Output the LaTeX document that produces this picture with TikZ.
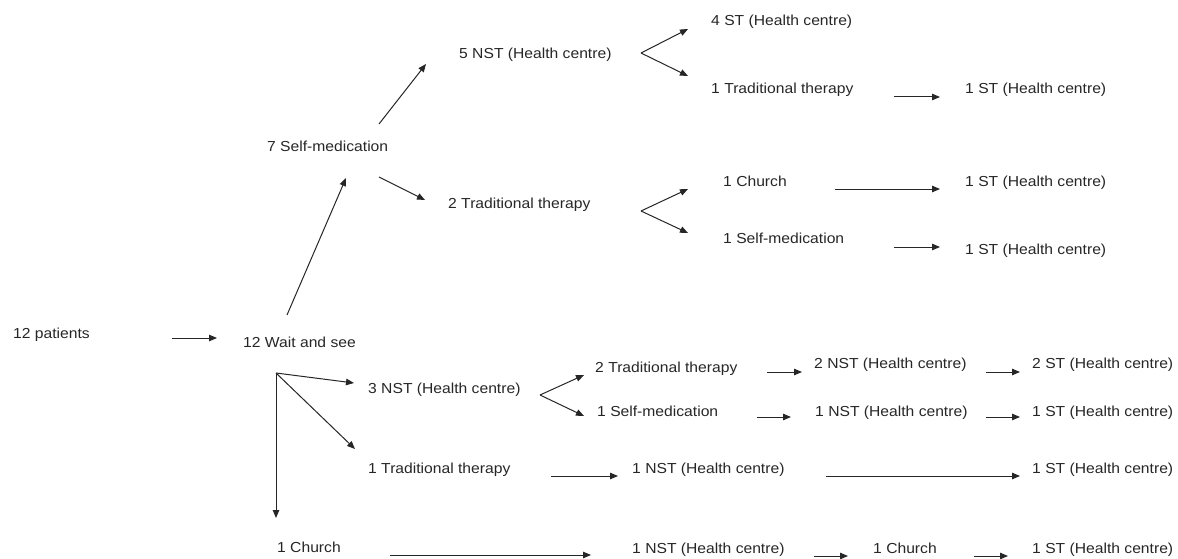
\documentclass[tikz,border=0pt]{standalone}
\usepackage{fontspec}
\setmainfont[FakeStretch=1.08]{Liberation Sans}
\usetikzlibrary{arrows.meta}
\tikzset{
  lbl/.style={anchor=base west, inner sep=0pt, text=black!85, font=\fontsize{14.5}{17}\selectfont},
  arr/.style={draw=black!85, line width=1pt, -{Triangle[length=8pt,width=6.5pt]}},
}
\begin{document}
\begin{tikzpicture}[x=1pt,y=-1pt]
\useasboundingbox (0,0) rectangle (1178,559);
% nodes (base y = visual centre + 5)
\node[lbl] (p)     at (13,338)  {12 patients};
\node[lbl] (w)     at (243,347) {12 Wait and see};
\node[lbl] (sm)    at (267,151) {7 Self-medication};
\node[lbl] (nst5)  at (459,59)  {5 NST (Health centre)};
\node[lbl] (st4)   at (711,26)  {4 ST (Health centre)};
\node[lbl] (tt1)   at (711,94)  {1 Traditional therapy};
\node[lbl] (st1a)  at (965,94)  {1 ST (Health centre)};
\node[lbl] (tt2)   at (448,208) {2 Traditional therapy};
\node[lbl] (ch1)   at (723,186) {1 Church};
\node[lbl] (st1b)  at (965,186) {1 ST (Health centre)};
\node[lbl] (sm1)   at (723,243) {1 Self-medication};
\node[lbl] (st1c)  at (965,254) {1 ST (Health centre)};
\node[lbl] (nst3)  at (368,393) {3 NST (Health centre)};
\node[lbl] (tt2b)  at (595,372) {2 Traditional therapy};
\node[lbl] (nst2)  at (814,368) {2 NST (Health centre)};
\node[lbl] (st2)   at (1032,368) {2 ST (Health centre)};
\node[lbl] (sm1b)  at (597,416) {1 Self-medication};
\node[lbl] (nst1a) at (815,416) {1 NST (Health centre)};
\node[lbl] (st1d)  at (1032,416) {1 ST (Health centre)};
\node[lbl] (tt1b)  at (368,473) {1 Traditional therapy};
\node[lbl] (nst1b) at (632,473) {1 NST (Health centre)};
\node[lbl] (st1e)  at (1032,473) {1 ST (Health centre)};
\node[lbl] (ch1b)  at (277,552) {1 Church};
\node[lbl] (nst1c) at (632,553) {1 NST (Health centre)};
\node[lbl] (ch1c)  at (873,553) {1 Church};
\node[lbl] (st1f)  at (1032,553) {1 ST (Health centre)};
% connector end points
\coordinate (a1s) at (172,338); \coordinate (a1e) at (217,338);
\coordinate (a2s) at (287,315); \coordinate (a2e) at (346,178);
\coordinate (a3s) at (379,124); \coordinate (a3e) at (426,64);
\coordinate (a4s) at (379,177); \coordinate (a4e) at (425,200);
\coordinate (f1)  at (641,53);  \coordinate (f1u) at (688,29); \coordinate (f1d) at (688,76);
\coordinate (a6s) at (894,97);  \coordinate (a6e) at (940,97);
\coordinate (f2)  at (641,211); \coordinate (f2u) at (688,189); \coordinate (f2d) at (688,233);
\coordinate (a8s) at (835,189); \coordinate (a8e) at (940,189);
\coordinate (a9s) at (894,247); \coordinate (a9e) at (940,247);
\coordinate (f3)  at (276,373); \coordinate (f3a) at (354,383); \coordinate (f3b) at (355,449); \coordinate (f3c) at (276,518);
\coordinate (f4)  at (540,395); \coordinate (f4u) at (584,375); \coordinate (f4d) at (584,416);
\coordinate (a12s) at (767,372); \coordinate (a12e) at (802,372);
\coordinate (a13s) at (986,372); \coordinate (a13e) at (1020,372);
\coordinate (a14s) at (757,417); \coordinate (a14e) at (791,417);
\coordinate (a15s) at (986,417); \coordinate (a15e) at (1020,417);
\coordinate (a16s) at (551,476); \coordinate (a16e) at (618,476);
\coordinate (a17s) at (826,476); \coordinate (a17e) at (1020,476);
\coordinate (a18s) at (390,555); \coordinate (a18e) at (591,555);
\coordinate (a19s) at (814,556); \coordinate (a19e) at (848,556);
\coordinate (a20s) at (974,556); \coordinate (a20e) at (1008,556);
% connectors
\draw[arr] (a1s) -- (a1e);
\draw[arr] (a2s) -- (a2e);
\draw[arr] (a3s) -- (a3e);
\draw[arr] (a4s) -- (a4e);
\draw[arr] (f1) -- (f1u); \draw[arr] (f1) -- (f1d);
\draw[arr] (a6s) -- (a6e);
\draw[arr] (f2) -- (f2u); \draw[arr] (f2) -- (f2d);
\draw[arr] (a8s) -- (a8e);
\draw[arr] (a9s) -- (a9e);
\draw[arr] (f3) -- (f3a); \draw[arr] (f3) -- (f3b); \draw[arr] (f3) -- (f3c);
\draw[arr] (f4) -- (f4u); \draw[arr] (f4) -- (f4d);
\draw[arr] (a12s) -- (a12e);
\draw[arr] (a13s) -- (a13e);
\draw[arr] (a14s) -- (a14e);
\draw[arr] (a15s) -- (a15e);
\draw[arr] (a16s) -- (a16e);
\draw[arr] (a17s) -- (a17e);
\draw[arr] (a18s) -- (a18e);
\draw[arr] (a19s) -- (a19e);
\draw[arr] (a20s) -- (a20e);
\end{tikzpicture}
\end{document}
